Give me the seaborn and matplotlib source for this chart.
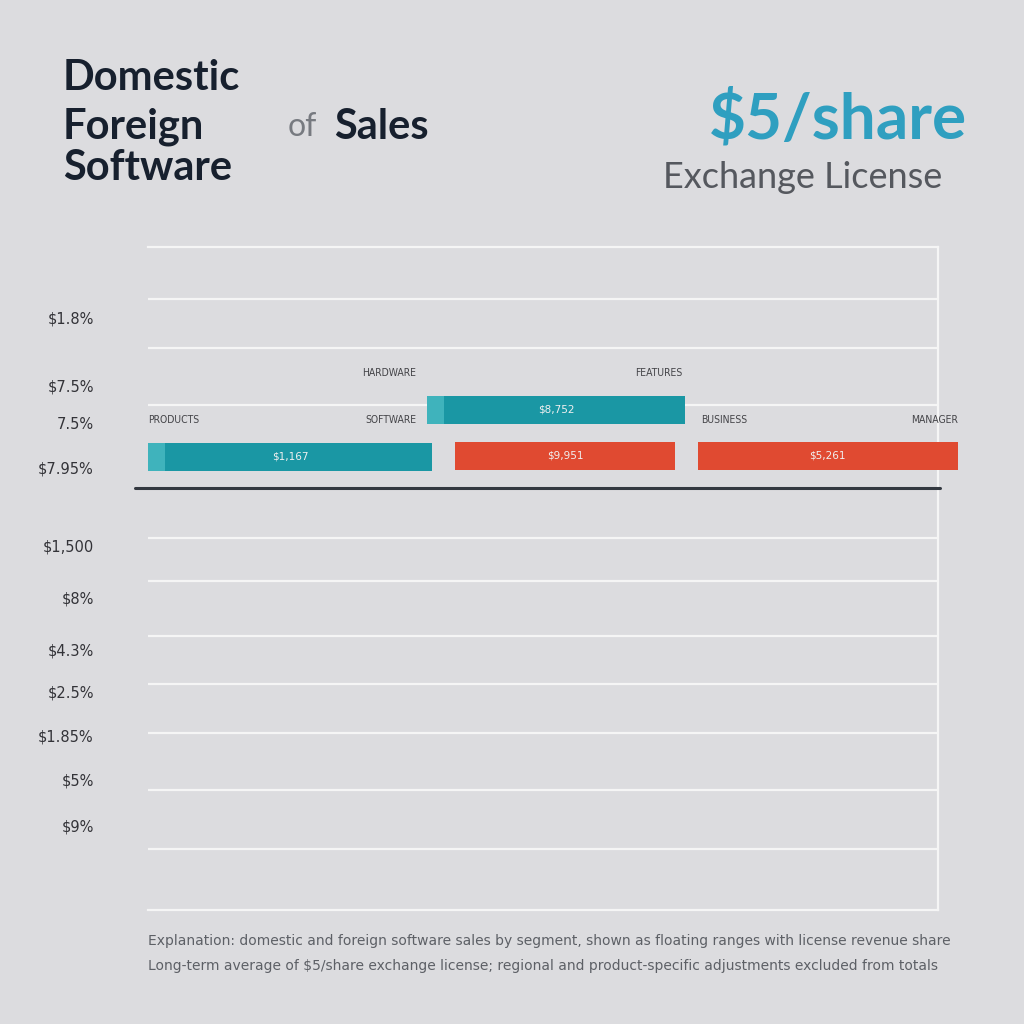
import matplotlib
matplotlib.use("Agg")
import matplotlib.pyplot as plt
import seaborn as sns
import pandas as pd

# ---- data ----
segments = ["Domestic A", "Domestic B", "Foreign A", "Foreign B"]
seg_start = [0.0, 3.53, 3.89, 6.96]
seg_end = [3.60, 6.80, 6.67, 10.25]
seg_row = [9.07, 10.01, 9.08, 9.08]
seg_kind = ["teal", "teal", "red", "red"]
seg_value_labels = ["$1,167", "$8,752", "$9,951", "$5,261"]

top_labels = ["PRODUCTS", "SOFTWARE", "HARDWARE", "FEATURES", "BUSINESS", "MANAGER"]
top_label_x = [0.0, 3.4, 3.4, 6.77, 7.0, 10.25]
top_label_y = [9.8, 9.8, 10.74, 10.74, 9.8, 9.8]
top_label_ha = ["left", "right", "right", "right", "left", "right"]

ytick_pos = [11.84, 10.5, 9.74, 8.86, 7.28, 6.24, 5.2, 4.38, 3.48, 2.62, 1.68]
ytick_labels = ["$1.8%", "$7.5%", "7.5%", "$7.95%", "$1,500", "$8%",
                "$4.3%", "$2.5%", "$1.85%", "$5%", "$9%"]
grid_y = [12.22, 11.24, 10.1, 7.44, 6.58, 5.48, 4.52, 3.54, 2.4, 1.22]
baseline_y = 8.44

df = pd.DataFrame({"segment": segments, "start": seg_start, "end": seg_end,
                   "row": seg_row, "kind": seg_kind, "label": seg_value_labels})

# ---- style ----
BG = "#dcdcdf"
sns.set_theme(style="white")
plt.rcParams["font.family"] = ["DejaVu Sans"]
colors = {"teal": "#1a97a4", "red": "#e04a31"}
light = {"teal": "#3fb3bc", "red": "#e86a52"}

fig = plt.figure(figsize=(10.24, 10.24), dpi=100, facecolor=BG)
ax = fig.add_axes([148/1024, 1-910/1024, 790/1024, 663/1024])
ax.set_facecolor(BG)
ax.set_xlim(0, 10)
ax.set_ylim(0, 13.26)

ax.spines["left"].set_visible(False)
for s in ["top", "right", "bottom"]:
    ax.spines[s].set_color("#f5f5f5")
    ax.spines[s].set_linewidth(1.6)

for gy in grid_y:
    ax.axhline(gy, color="#f5f5f5", lw=1.6, zorder=1)

ax.plot([-0.17, 10.03], [baseline_y, baseline_y], color="#333840", lw=2.2,
        clip_on=False, zorder=3)

for _, r in df.iterrows():
    ax.barh(r["row"], r["end"] - r["start"], left=r["start"], height=0.56,
            color=colors[r["kind"]], edgecolor="none", zorder=4, clip_on=False)
    if r["kind"] == "teal":
        ax.barh(r["row"], 0.22, left=r["start"], height=0.56,
                color=light[r["kind"]], edgecolor="none", zorder=4, clip_on=False)
    ax.text((r["start"] + r["end"]) / 2, r["row"], r["label"], ha="center",
            va="center", color="#f0f0f0", fontsize=7.5, zorder=5)

for t, x, y, ha in zip(top_labels, top_label_x, top_label_y, top_label_ha):
    ax.text(x, y, t, ha=ha, va="center", fontsize=7.5, color="#444448",
            fontstretch="condensed", zorder=5)

ax.set_yticks(ytick_pos)
ax.set_yticklabels(ytick_labels, fontsize=10.5, color="#333338")
ax.set_xticks([])
ax.tick_params(axis="y", length=0, pad=39)

# ---- titles ----
title_kw = dict(fontsize=30, fontweight="bold", color="#17202e", ha="left",
                va="center", family=["Lato", "DejaVu Sans"])
fig.text(63/1024, 1-78/1024, "Domestic", **title_kw)
fig.text(63/1024, 1-127/1024, "Foreign", **title_kw)
fig.text(288/1024, 1-127/1024, "of", fontsize=23, color="#777a80", ha="left",
         va="center", family=["Lato", "DejaVu Sans"])
fig.text(334/1024, 1-127/1024, "Sales", **title_kw)
fig.text(63/1024, 1-168/1024, "Software", **title_kw)

fig.text(838/1024, 1-119/1024, "$5/share", fontsize=46, fontweight="bold",
         color="#2f9fc0", ha="center", va="center", family=["Lato", "DejaVu Sans"])
fig.text(803/1024, 1-177/1024, "Exchange License", fontsize=26, color="#55585e",
         ha="center", va="center", family=["Lato", "DejaVu Sans"])

foot_kw = dict(fontsize=10, color="#5d6066", ha="left", va="center")
fig.text(148/1024, 1-941/1024,
         "Explanation: domestic and foreign software sales by segment, shown as floating ranges with license revenue share",
         **foot_kw)
fig.text(148/1024, 1-966/1024,
         "Long-term average of $5/share exchange license; regional and product-specific adjustments excluded from totals",
         **foot_kw)

fig.savefig("out.png", dpi=100, facecolor=BG)
